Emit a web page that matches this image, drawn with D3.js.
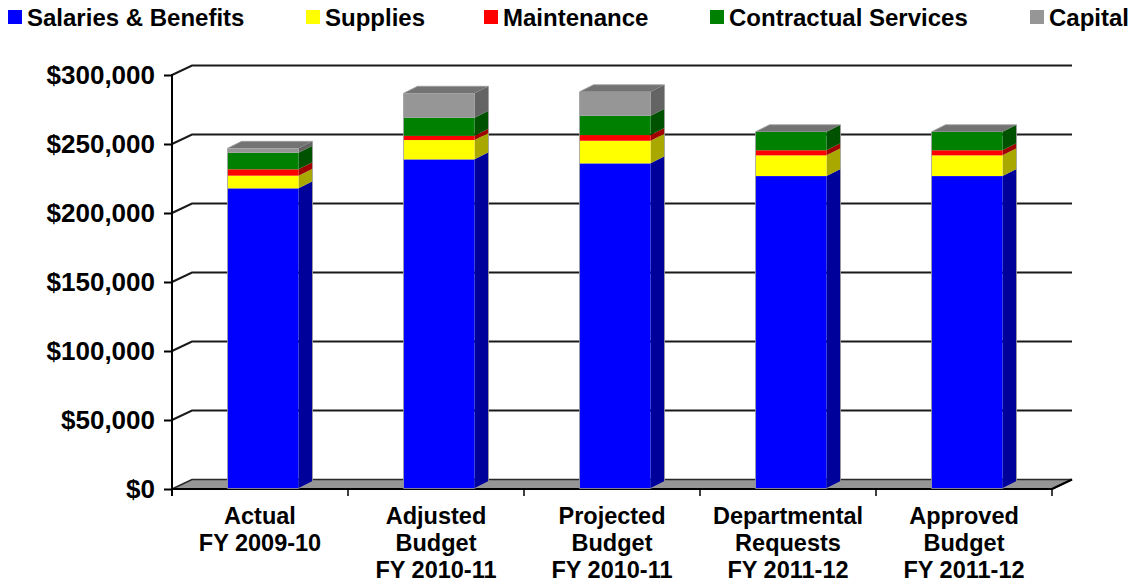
<!DOCTYPE html>
<html>
<head>
<meta charset="utf-8">
<script src="https://cdn.jsdelivr.net/npm/d3@7"></script>
<style>
  html, body { margin: 0; padding: 0; background: #fff; }
  svg { display: block; font-family: "Liberation Sans", Arial, sans-serif; font-weight: bold; }
</style>
</head>
<body>
<svg id="chart" width="1137" height="585"></svg>
<script>
// Budget categories (x axis), one label line per array entry
const categories = [
  ["Actual", "FY 2009-10"],
  ["Adjusted", "Budget", "FY 2010-11"],
  ["Projected", "Budget", "FY 2010-11"],
  ["Departmental", "Requests", "FY 2011-12"],
  ["Approved", "Budget", "FY 2011-12"]
];

// Stacked series, bottom to top
const seriesNames = ["Salaries & Benefits", "Supplies", "Maintenance", "Contractual Services", "Capital"];
const salaries    = [217500, 238500, 235600, 226400, 226400];
const supplies    = [9200, 14000, 16400, 15000, 15000];
const maintenance = [4600, 3100, 4100, 3700, 3700];
const contractual = [12000, 13100, 14000, 13400, 13400];
const capital     = [3200, 17700, 17400, 0, 0];

const yTicks = [0, 50000, 100000, 150000, 200000, 250000, 300000];

// Face colours per series: front, side, top
const palette = [
  { front: "#0000FF", side: "#00009A", top: "#0000C0" },
  { front: "#FFFF00", side: "#A8A800", top: "#D0D000" },
  { front: "#FF0000", side: "#A00000", top: "#C00000" },
  { front: "#008000", side: "#005200", top: "#006400" },
  { front: "#969696", side: "#646464", top: "#737373" }
];

const svg = d3.select("#chart");

// Plot frame: front plane and the receding depth of the floor / walls
const left = 172, right = 1052;
const depth = { x: 20, y: -9.5 };       // floor depth offset
const barOff = { x: 3, y: -0.5 };        // bar front face offset into the depth
const barDepth = { x: 14, y: -7 };      // bar thickness

const y = d3.scaleLinear().domain([0, 300000]).range([489, 75]);
const x = d3.scaleBand().domain(d3.range(categories.length)).range([left, right]).paddingInner(0).paddingOuter(0);
const barW = 71;

// Stack the series
const table = categories.map((c, i) => ({
  i,
  s0: salaries[i], s1: supplies[i], s2: maintenance[i], s3: contractual[i], s4: capital[i]
}));
const keys = ["s0", "s1", "s2", "s3", "s4"];
const stacked = d3.stack().keys(keys)(table);

// ---- Walls: gridlines run up the left wall then across the back wall
const grid = svg.append("g");
yTicks.filter(t => t > 0).forEach(t => {
  const yy = y(t);
  grid.append("path")
    .attr("d", `M${left},${yy} L${left + depth.x},${yy + depth.y} L${right + depth.x},${yy + depth.y}`)
    .attr("fill", "none").attr("stroke", "#1a1a1a").attr("stroke-width", 2);
});

// ---- Floor
const y0 = y(0);
svg.append("path")
  .attr("d", `M${left},${y0} L${left + depth.x},${y0 + depth.y} L${right + depth.x},${y0 + depth.y} L${right},${y0} Z`)
  .attr("fill", "#969696").attr("stroke", "#2a2a2a").attr("stroke-width", 1.5);

// ---- Value axis line and ticks
const yAxis = d3.axisLeft(y).tickValues(yTicks).tickSize(8).tickPadding(9)
  .tickFormat(d => "$" + d3.format(",")(d));
const yg = svg.append("g").attr("transform", `translate(${left},0)`).call(yAxis);
yg.select(".domain").remove();
yg.selectAll(".tick line").attr("stroke", "#000").attr("stroke-width", 2);
yg.selectAll(".tick text")
  .attr("font-size", 26).attr("font-weight", "bold").attr("fill", "#000")
  .attr("font-family", "'Liberation Sans', Arial, sans-serif");
svg.append("line").attr("x1", left).attr("x2", left).attr("y1", y(300000) - 1).attr("y2", y0 + 7)
  .attr("stroke", "#000").attr("stroke-width", 2);

// ---- Category axis
const xAxis = d3.axisBottom(x).tickSize(0).tickFormat("");
const xg = svg.append("g").attr("transform", `translate(0,${y0})`).call(xAxis);
xg.select(".domain").attr("stroke", "#000").attr("stroke-width", 2).attr("d", `M${left},0H${right}`);
// tick marks at category boundaries
x.domain().forEach(i => {
  const bx = x(i) + x.bandwidth();
  svg.append("line").attr("x1", bx).attr("x2", bx).attr("y1", y0).attr("y2", y0 + 7)
    .attr("stroke", "#000").attr("stroke-width", 1.5);
});
// right edge of floor
svg.append("line").attr("x1", right).attr("y1", y0).attr("x2", right + depth.x).attr("y2", y0 + depth.y)
  .attr("stroke", "#000").attr("stroke-width", 2);

// category labels
const catG = svg.append("g");
categories.forEach((lines, i) => {
  const t = catG.append("text")
    .attr("x", x(i) + x.bandwidth() / 2)
    .attr("y", 524)
    .attr("text-anchor", "middle")
    .attr("font-size", 23.5).attr("font-weight", "bold").attr("fill", "#000");
  lines.forEach((ln, k) => {
    t.append("tspan").attr("x", x(i) + x.bandwidth() / 2).attr("dy", k === 0 ? 0 : 27).text(ln);
  });
});

// ---- 3D stacked bars
const bars = svg.append("g");
table.forEach((row, i) => {
  const fx0 = x(i) + (x.bandwidth() - barW) / 2 + barOff.x;
  const fx1 = fx0 + barW;
  const g = bars.append("g");
  stacked.forEach((layer, s) => {
    const d = layer[i];
    const yb = y(d[0]) + barOff.y, yt = y(d[1]) + barOff.y;
    // side face
    g.append("path")
      .attr("d", `M${fx1},${yb} L${fx1 + barDepth.x},${yb + barDepth.y} L${fx1 + barDepth.x},${yt + barDepth.y} L${fx1},${yt} Z`)
      .attr("fill", palette[s].side);
    // front face
    g.append("rect")
      .attr("x", fx0).attr("y", yt).attr("width", barW).attr("height", Math.max(0, yb - yt))
      .attr("fill", palette[s].front);
  });
  // top face of the highest segment
  const top = stacked[stacked.length - 1][i][1];
  const yt = y(top) + barOff.y;
  g.append("path")
    .attr("d", `M${fx0},${yt} L${fx0 + barDepth.x},${yt + barDepth.y} L${fx1 + barDepth.x},${yt + barDepth.y} L${fx1},${yt} Z`)
    .attr("fill", palette[palette.length - 1].top);
  // soft outline around the bar silhouette
  const yb = y(0) + barOff.y;
  g.append("path")
    .attr("d", `M${fx0},${yb} L${fx0},${yt} L${fx0 + barDepth.x},${yt + barDepth.y} L${fx1 + barDepth.x},${yt + barDepth.y} L${fx1 + barDepth.x},${yb + barDepth.y} L${fx1},${yb} Z`)
    .attr("fill", "none").attr("stroke", "#a0a0a0").attr("stroke-width", 0.8);
});

// ---- Legend
const legendX = [8, 306, 484, 710, 1030];
const legend = svg.append("g");
seriesNames.forEach((name, s) => {
  legend.append("rect").attr("x", legendX[s]).attr("y", 10).attr("width", 14).attr("height", 14)
    .attr("fill", palette[s].front);
  legend.append("text").attr("x", legendX[s] + 19).attr("y", 26)
    .attr("font-size", 24).attr("font-weight", "bold").attr("fill", "#000").text(name);
});
</script>
</body>
</html>
